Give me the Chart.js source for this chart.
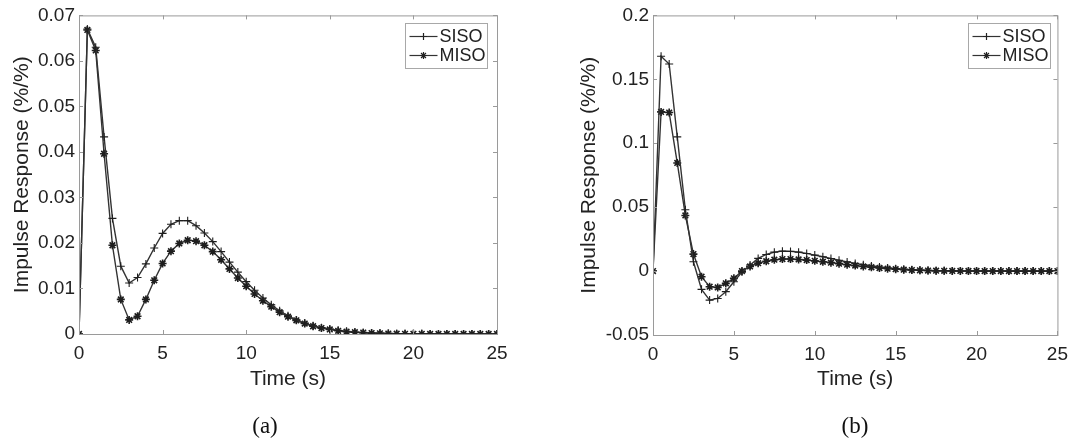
<!DOCTYPE html>
<html>
<head>
<meta charset="utf-8">
<title>Impulse Response</title>
<script src="https://cdn.jsdelivr.net/npm/chart.js@4.4.1/dist/chart.umd.min.js"></script>
<style>
  body { margin: 0; background: #fff; width: 1076px; height: 441px; position: relative; overflow: hidden; }
  canvas { position: absolute; top: 0; }
  #chartA { left: 0; }
  #chartB { left: 540px; }
  .caption {
    position: absolute; top: 413px; transform: translateX(-50%);
    font-family: "Liberation Serif", "Times New Roman", serif; font-size: 23px; color: #111;
  }
</style>
</head>
<body>
<canvas id="chartA" width="540" height="441"></canvas>
<canvas id="chartB" width="536" height="441"></canvas>
<div class="caption" style="left:265px">(a)</div>
<div class="caption" style="left:855px">(b)</div>

<script>
// sample times (s)
const time = [0, 0.5, 1, 1.5, 2, 2.5, 3, 3.5, 4, 4.5, 5, 5.5, 6, 6.5, 7, 7.5, 8, 8.5, 9, 9.5,
  10, 10.5, 11, 11.5, 12, 12.5, 13, 13.5, 14, 14.5, 15, 15.5, 16, 16.5, 17, 17.5, 18, 18.5, 19, 19.5,
  20, 20.5, 21, 21.5, 22, 22.5, 23, 23.5, 24, 24.5, 25];

// (a) responses
const sisoA = [0, 0.0670, 0.0630, 0.0433, 0.0254, 0.0149, 0.0112, 0.0124, 0.0154, 0.0189,
  0.0221, 0.0241, 0.0249, 0.0249, 0.0238, 0.0222, 0.0203, 0.0181, 0.0158, 0.0136,
  0.0115, 0.0096, 0.0079, 0.0064, 0.0051, 0.0040, 0.0031, 0.0024, 0.0018, 0.0014,
  0.0011, 0.0008, 0.0006, 0.0004, 0.0003, 0.0002, 0.00015, 0.0001, 0.00008, 0.00006,
  0.00004, 0.00003, 0.00002, 0.00002, 0.00001, 0.00001, 0.00001, 0, 0, 0, 0];
const misoA = [0, 0.0668, 0.0623, 0.0396, 0.0195, 0.0076, 0.0031, 0.0039, 0.0076, 0.0118,
  0.0155, 0.0182, 0.0199, 0.0206, 0.0204, 0.0195, 0.0181, 0.0163, 0.0143, 0.0123,
  0.0105, 0.0088, 0.0073, 0.0060, 0.0048, 0.0038, 0.0030, 0.0023, 0.0017, 0.0013,
  0.0010, 0.0007, 0.0005, 0.0004, 0.0003, 0.0002, 0.00014, 0.0001, 0.00007, 0.00005,
  0.00004, 0.00003, 0.00002, 0.00001, 0.00001, 0.00001, 0.00001, 0, 0, 0, 0];

// (b) responses
const sisoB = [0, 0.168, 0.162, 0.105, 0.048, 0.0073, -0.0143, -0.0227, -0.0214, -0.0161,
  -0.0083, -0.0008, 0.0047, 0.0099, 0.0130, 0.0148, 0.0156, 0.0154, 0.0148, 0.0138,
  0.0125, 0.0112, 0.0098, 0.0085, 0.0072, 0.0060, 0.0049, 0.0040, 0.0032, 0.0025,
  0.0019, 0.0014, 0.0010, 0.0007, 0.0005, 0.0003, 0.0002, 0.00015, 0.0001, 0.00007,
  0.00005, 0.00003, 0.00002, 0.00001, 0, 0, 0, 0, 0, 0, 0];
const misoB = [0, 0.1245, 0.1240, 0.0846, 0.0435, 0.0133, -0.0044, -0.0122, -0.0128, -0.0096,
  -0.0057, 0, 0.0036, 0.0062, 0.0077, 0.0089, 0.0094, 0.0094, 0.0091, 0.0086,
  0.0080, 0.0073, 0.0066, 0.0058, 0.0050, 0.0043, 0.0036, 0.0030, 0.0024, 0.0019,
  0.0015, 0.0011, 0.0008, 0.0006, 0.0004, 0.0003, 0.0002, 0.00014, 0.0001, 0.00007,
  0.00005, 0.00003, 0.00002, 0.00001, 0, 0, 0, 0, 0, 0, 0];

const xTicks = [0, 5, 10, 15, 20, 25];
const yTicksA = [0, 0.01, 0.02, 0.03, 0.04, 0.05, 0.06, 0.07];
const yTicksB = [-0.05, 0, 0.05, 0.1, 0.15, 0.2];

const FONT = '"Liberation Sans", Arial, Helvetica, sans-serif';
const INK = '#222';
const LINE = '#333';

// box with inward ticks on all four sides, plus a small legend in the top right corner
const boxPlugin = {
  id: 'matlabBox',
  afterDraw(chart, args, opts) {
    const { ctx, chartArea: a, scales: { x, y } } = chart;
    ctx.save();
    ctx.strokeStyle = '#9a9a9a';
    ctx.lineWidth = 1;
    ctx.strokeRect(a.left + 0.5, a.top + 0.5, a.right - a.left, a.bottom - a.top);
    ctx.beginPath();
    x.ticks.forEach(t => {
      const px = Math.round(x.getPixelForValue(t.value)) + 0.5;
      ctx.moveTo(px, a.bottom); ctx.lineTo(px, a.bottom - 4);
      ctx.moveTo(px, a.top); ctx.lineTo(px, a.top + 4);
    });
    y.ticks.forEach(t => {
      const py = Math.round(y.getPixelForValue(t.value)) + 0.5;
      ctx.moveTo(a.left, py); ctx.lineTo(a.left + 4, py);
      ctx.moveTo(a.right, py); ctx.lineTo(a.right - 4, py);
    });
    ctx.stroke();

    // legend
    const w = 82, h = 45;
    const bx = Math.round(a.right - opts.legendRight - w) + 0.5;
    const by = Math.round(a.top + 8) + 0.5;
    ctx.fillStyle = '#fff';
    ctx.fillRect(bx, by, w, h);
    ctx.strokeStyle = '#a8a8a8';
    ctx.strokeRect(bx, by, w, h);
    ctx.font = '18px ' + FONT;
    ctx.textBaseline = 'middle';
    chart.data.datasets.forEach((ds, i) => {
      const ry = by + 13 + i * 19;
      ctx.strokeStyle = LINE;
      ctx.lineWidth = 1.2;
      ctx.beginPath();
      ctx.moveTo(bx + 4, ry); ctx.lineTo(bx + 32, ry);
      ctx.stroke();
      ctx.strokeStyle = '#222';
      if (Chart.helpers && Chart.helpers.drawPoint) {
        Chart.helpers.drawPoint(ctx, { pointStyle: ds.pointStyle, radius: 3.5, rotation: 0, borderWidth: ds.pointBorderWidth }, bx + 18, ry);
      }
      ctx.fillStyle = INK;
      ctx.fillText(ds.label, bx + 34, ry + 1);
    });
    ctx.restore();
  }
};

function series(label, values, style, width) {
  return {
    label: label,
    data: time.map((t, i) => ({ x: t, y: values[i] })),
    borderColor: LINE,
    borderWidth: 1.4,
    tension: 0,
    pointStyle: style,
    pointRadius: 4,
    pointBorderColor: '#1e1e1e',
    pointBorderWidth: width,
    pointBackgroundColor: '#1e1e1e'
  };
}

function makeChart(id, siso, miso, yMin, yMax, yTicks, pad, yWidth, xHeight, legendRight) {
  return new Chart(document.getElementById(id), {
    type: 'line',
    data: {
      datasets: [
        series('SISO', siso, 'cross', 1.1),
        series('MISO', miso, 'star', 1.6)
      ]
    },
    options: {
      responsive: false,
      animation: false,
      devicePixelRatio: 1,
      layout: { padding: pad },
      plugins: {
        legend: { display: false },
        tooltip: { enabled: false },
        matlabBox: { legendRight: legendRight }
      },
      scales: {
        x: {
          type: 'linear', min: 0, max: 25,
          afterBuildTicks: s => { s.ticks = xTicks.map(v => ({ value: v })); },
          afterFit: s => { s.height = xHeight; },
          grid: { display: false, drawTicks: false },
          border: { display: false },
          ticks: { padding: 8, color: INK, font: { family: FONT, size: 19 }, maxRotation: 0, autoSkip: false, callback: v => String(v) },
          title: { display: true, text: 'Time (s)', color: INK, font: { family: FONT, size: 21 }, padding: 0 }
        },
        y: {
          type: 'linear', min: yMin, max: yMax,
          afterBuildTicks: s => { s.ticks = yTicks.map(v => ({ value: v })); },
          afterFit: s => { s.width = yWidth; },
          grid: { display: false, drawTicks: false },
          border: { display: false },
          ticks: { padding: 4, color: INK, font: { family: FONT, size: 19 }, autoSkip: false, callback: v => String(v) },
          title: { display: true, text: 'Impulse Response (%/%)', color: INK, font: { family: FONT, size: 21 }, padding: 0 }
        }
      }
    },
    plugins: [boxPlugin]
  });
}

makeChart('chartA', sisoA, misoA, 0, 0.07, yTicksA,
  { left: 10, right: 43, top: 15, bottom: 49 }, 69, 58, 10);
makeChart('chartB', sisoB, misoB, -0.05, 0.2, yTicksB,
  { left: 37, right: 13, top: 15, bottom: 49 }, 76, 57, 7);
</script>
</body>
</html>
